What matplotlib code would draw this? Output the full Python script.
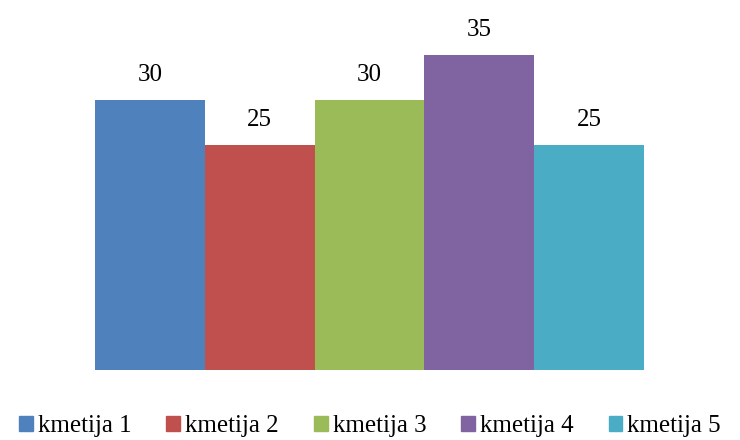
import matplotlib.pyplot as plt
from matplotlib.patches import Patch

plt.rcParams['font.family'] = ['Liberation Serif', 'DejaVu Serif']

farms = ['kmetija 1', 'kmetija 2', 'kmetija 3', 'kmetija 4', 'kmetija 5']
values = [30, 25, 30, 35, 25]
colors = ['#4F81BD', '#C0504D', '#9BBB59', '#8064A2', '#4BACC6']

fig = plt.figure(figsize=(7.4, 4.4), dpi=100)
ax = fig.add_axes([95 / 740, 70 / 440, 549 / 740, 360 / 440])

x = range(len(values))
bars = ax.bar(x, values, width=1.0, color=colors)
for b, v in zip(bars, values):
    ax.annotate(str(v), (b.get_x() + b.get_width() / 2, v),
                xytext=(0, 10), textcoords='offset points',
                ha='center', va='bottom', fontsize=18)

ax.set_xlim(-0.5, 4.5)
ax.set_ylim(0, 40)
ax.axis('off')

handles = [Patch(color=c, label=f) for c, f in zip(colors, farms)]
fig.legend(handles=handles, loc='center', bbox_to_anchor=(0.5, 14 / 440),
           ncol=5, frameon=False, fontsize=18, handlelength=0.55,
           handleheight=0.55, handletextpad=0.2, columnspacing=1.4,
           borderaxespad=0)

fig.savefig('out.png', dpi=100)
